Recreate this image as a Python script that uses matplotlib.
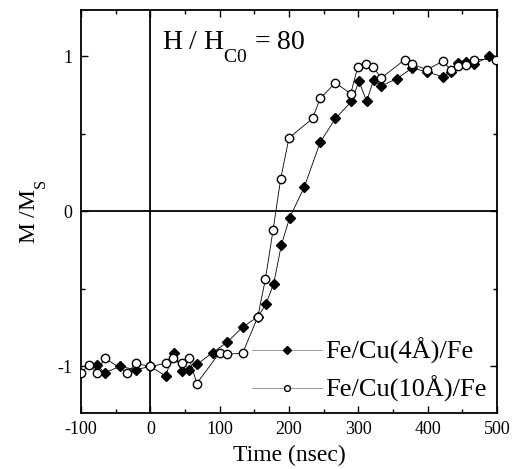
import matplotlib
matplotlib.use("Agg")
import matplotlib.pyplot as plt
from matplotlib.ticker import MultipleLocator, FuncFormatter

plt.rcParams['font.family'] = ['Liberation Serif', 'DejaVu Serif']
plt.rcParams['mathtext.fontset'] = 'custom'
plt.rcParams['mathtext.rm'] = 'Liberation Serif'
plt.rcParams['mathtext.it'] = 'Liberation Serif:italic'
try:
    import matplotlib._mathtext as _mt
    _mt.FontConstantsBase.sub1 = 1.0
except Exception:
    pass

# Fe/Cu(4Å)/Fe  (filled diamonds)
t_4 = [-77, -66, -44, -21, 0, 22, 34, 45, 56, 67, 90, 111, 133, 155, 167, 178,
       189, 201, 222, 245, 267, 290, 301, 312, 322, 333, 356, 378, 399, 422,
       433, 444, 456, 467, 489]
m_4 = [-0.99, -1.04, -1.00, -1.02, -1.00, -1.06, -0.91, -1.03, -1.02, -0.987,
       -0.91, -0.843, -0.746, -0.68, -0.595, -0.465, -0.215, -0.04, 0.157,
       0.447, 0.60, 0.71, 0.84, 0.71, 0.85, 0.81, 0.858, 0.927, 0.90, 0.87,
       0.90, 0.96, 0.963, 0.95, 1.00]

# Fe/Cu(10Å)/Fe  (open circles)
t_10 = [-100, -88, -77, -66, -33, -21, 0, 22, 33, 45, 56, 67, 100, 111, 133,
        155, 166, 177, 188, 200, 234, 245, 267, 289, 299, 311, 321, 333, 367,
        378, 399, 422, 433, 444, 456, 467, 499]
m_10 = [-1.04, -0.99, -1.04, -0.945, -1.04, -0.98, -1.00, -0.98, -0.945, -0.98,
        -0.945, -1.11, -0.91, -0.92, -0.915, -0.68, -0.435, -0.12, 0.21, 0.475,
        0.60, 0.73, 0.83, 0.76, 0.93, 0.95, 0.935, 0.86, 0.98, 0.95, 0.915,
        0.97, 0.915, 0.94, 0.948, 0.98, 0.98]

labels = ['Fe/Cu(4\u00c5)/Fe', 'Fe/Cu(10\u00c5)/Fe']
x_ticks = [-100, 0, 100, 200, 300, 400, 500]
y_ticks = [-1, 0, 1]

fig = plt.figure(figsize=(5.14, 4.69), dpi=100)
ax = fig.add_axes([81/514, 56/469, 416/514, 403/469])

ax.axhline(0, color='black', lw=1.3, zorder=1)
ax.axvline(0, color='black', lw=1.3, zorder=1)

ax.plot(t_4, m_4, color='black', lw=0.6, marker='D', markersize=5.5,
        markerfacecolor='black', markeredgecolor='black', label=labels[0], zorder=3)
ax.plot(t_10, m_10, color='black', lw=0.6, marker='o', markersize=6,
        markerfacecolor='white', markeredgecolor='black', markeredgewidth=1.0,
        label=labels[1], zorder=4)

ax.set_xlim(-100, 500)
ax.set_ylim(-1.3, 1.3)
ax.set_xticks(x_ticks)
ax.set_yticks(y_ticks)
ax.xaxis.set_minor_locator(MultipleLocator(50))
ax.yaxis.set_minor_locator(MultipleLocator(0.5))
ax.yaxis.set_major_formatter(FuncFormatter(lambda v, p: '%d' % v))
ax.xaxis.set_major_formatter(FuncFormatter(lambda v, p: '%d' % v))
ax.tick_params(which='both', direction='in', top=True, right=True, width=1.0)
ax.tick_params(which='major', length=5, labelsize=13, pad=6)
ax.tick_params(which='minor', length=3)
for s in ax.spines.values():
    s.set_linewidth(1.3)

ax.set_xlabel('Time (nsec)', fontsize=17, labelpad=5)
ax.set_ylabel(r'M /M$_{\mathrm{S}}$', fontsize=17, labelpad=7)

ax.text(0.195, 0.904, r'H / H$_{\mathrm{C0}}$ = 80', transform=ax.transAxes,
        fontsize=20, ha='left', va='baseline')

leg = ax.legend(loc='lower right', frameon=False, fontsize=19,
                handlelength=2.65, handletextpad=0.12, borderaxespad=0.0,
                labelspacing=0.45, markerscale=0.7)
for h in leg.get_lines():
    h.set_color('#888888')
    h.set_markeredgecolor('black')

fig.savefig('out.png', dpi=100)
